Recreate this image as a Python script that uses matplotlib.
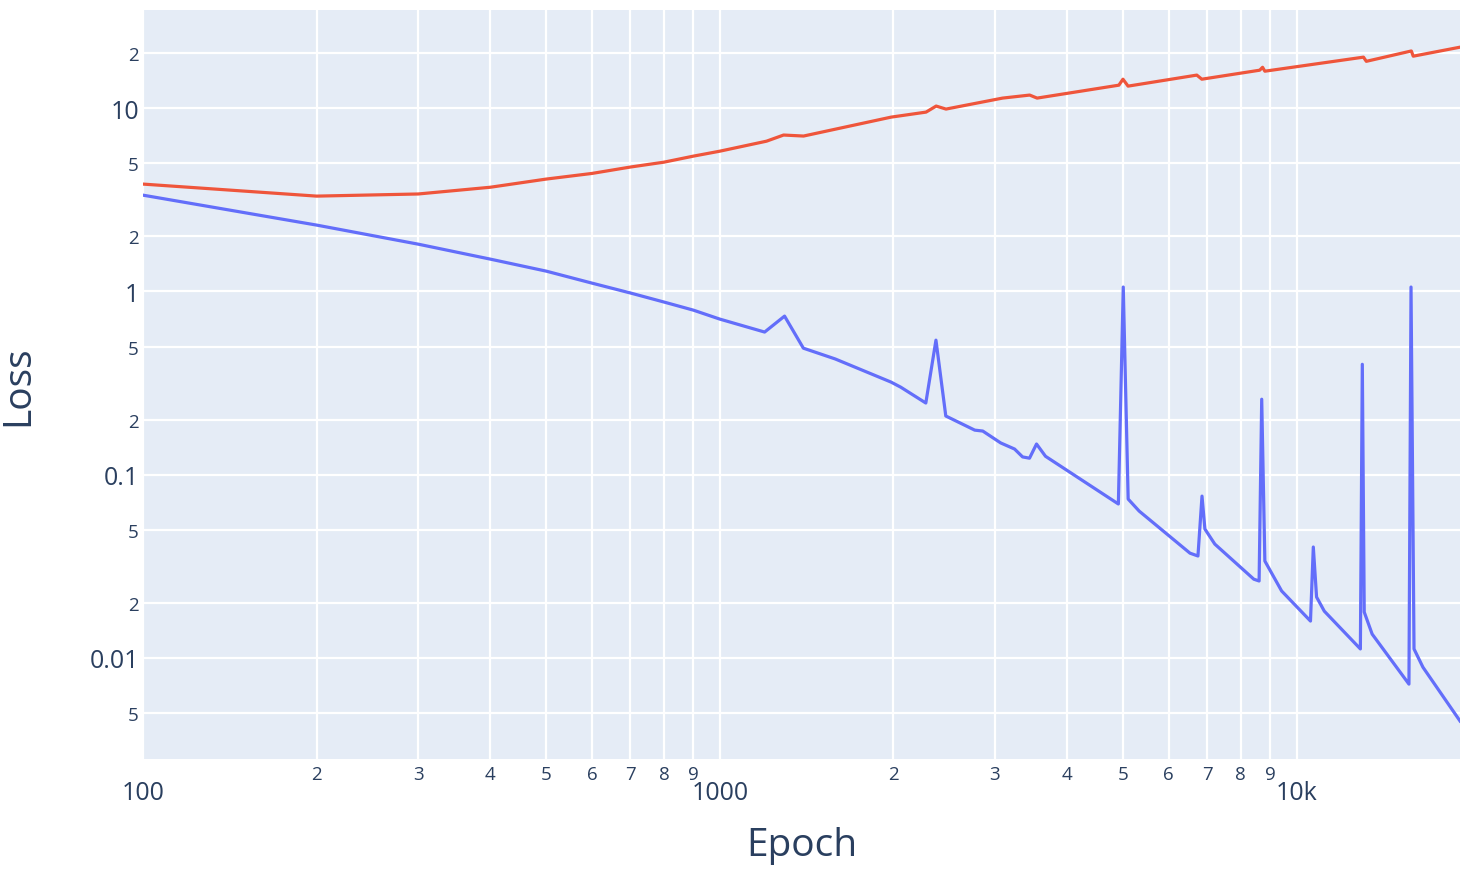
import matplotlib
matplotlib.use("Agg")
import matplotlib.pyplot as plt

# blue curve (training loss)
train_epochs = [100, 200, 300, 400, 500, 600, 700, 800, 900, 1000,
                1196, 1295, 1396, 1585, 1981, 2060, 2276, 2370, 2465,
                2767, 2857, 3069, 3244, 3349, 3443, 3541, 3670,
                4909, 5006, 5105, 5334, 6534, 6745, 6855, 6935, 7215,
                8430, 8610, 8700, 8810, 9420, 10570, 10690, 10830, 11170,
                12900, 13000, 13100, 13520, 15660, 15790, 15980, 16560, 19200]
train_loss = [3.35, 2.30, 1.81, 1.50, 1.29, 1.11, 0.98, 0.875, 0.79, 0.706,
              0.60, 0.733, 0.49, 0.428, 0.32, 0.30, 0.246, 0.542, 0.209,
              0.175, 0.173, 0.149, 0.138, 0.125, 0.123, 0.147, 0.126,
              0.0692, 1.056, 0.0736, 0.0633, 0.0373, 0.036, 0.0764, 0.0505, 0.0418,
              0.0269, 0.0263, 0.258, 0.0338, 0.0232, 0.0159, 0.0403, 0.0215, 0.018,
              0.0112, 0.40, 0.0178, 0.0135, 0.0072, 1.056, 0.0112, 0.0089, 0.00453]

# red curve (test loss)
test_epochs = [100, 200, 300, 400, 500, 600, 700, 800, 900, 1000,
               1205, 1290, 1397, 1982, 2278, 2372, 2467, 3092, 3445, 3549,
               4919, 5000, 5103, 6714, 6850, 8630, 8730, 8810,
               13060, 13210, 15810, 15930, 19200]
test_loss = [3.85, 3.31, 3.40, 3.70, 4.10, 4.40, 4.77, 5.07, 5.47, 5.82,
             6.6, 7.13, 7.04, 8.93, 9.51, 10.26, 9.88, 11.34, 11.78, 11.34,
             13.34, 14.38, 13.18, 15.14, 14.38, 16.1, 16.7, 15.9,
             18.97, 18.0, 20.5, 19.2, 21.5]

x_major = [100, 1000, 10000]
x_major_labels = ["100", "1000", "10k"]
x_minor = [m * d for d in (100, 1000, 10000) for m in range(2, 10) if m * d < 19200]
x_minor_labels = [str(int(v // 10 ** (len(str(int(v))) - 1))) for v in x_minor]

y_major = [0.01, 0.1, 1, 10]
y_major_labels = ["0.01", "0.1", "1", "10"]
y_minor = [0.005, 0.02, 0.05, 0.2, 0.5, 2, 5, 20]
y_minor_labels = ["5", "2", "5", "2", "5", "2", "5", "2"]

text_col = "#2a3f5f"
plt.rcParams["font.family"] = ["Open Sans", "DejaVu Sans"]

fig = plt.figure(figsize=(14.7, 8.7), dpi=100)
ax = fig.add_axes([143 / 1470, 110 / 870, 1317 / 1470, 749 / 870])
ax.set_facecolor("#E5ECF6")

ax.plot(test_epochs, test_loss, color="#EF553B", lw=2.3, zorder=3)
ax.plot(train_epochs, train_loss, color="#636EFA", lw=2.3, zorder=3)

ax.set_xscale("log")
ax.set_yscale("log")
ax.set_xlim(train_epochs[0], train_epochs[-1])
ax.set_ylim(0.00281, 34.3)

ax.set_xticks(x_major, x_major_labels)
ax.set_xticks(x_minor, x_minor_labels, minor=True)
ax.set_yticks(y_major, y_major_labels)
ax.set_yticks(y_minor, y_minor_labels, minor=True)

ax.tick_params(which="both", length=0, colors=text_col)
ax.tick_params(axis="x", which="major", labelsize=18, pad=15)
ax.tick_params(axis="x", which="minor", labelsize=13.5, pad=4)
ax.tick_params(axis="y", which="major", labelsize=18, pad=3)
ax.tick_params(axis="y", which="minor", labelsize=13.5, pad=3)

ax.grid(True, which="both", color="white", lw=1.6)
ax.set_axisbelow(True)
for s in ax.spines.values():
    s.set_visible(False)

ax.set_xlabel("Epoch", fontsize=28, color=text_col, va="center")
ax.xaxis.set_label_coords(0.5, -(846 - 760) / 749)
ax.set_ylabel("Loss", fontsize=28, color=text_col, va="center")
ax.yaxis.set_label_coords(-(125) / 1317, 0.5)

fig.savefig("out.png", dpi=100, facecolor="white")
